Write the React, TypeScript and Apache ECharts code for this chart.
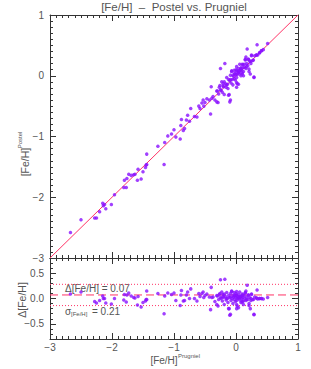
import React, { useEffect, useRef } from "react";
import * as echarts from "echarts";

// [Fe/H] from Prugniel (x) and Postel (y)
const prugniel = [
  -2.67, -2.5, -2.28, -2.25, -2.2, -2.15, -2.14, -2.12, -2.1, -2.01, -1.96, -1.81, -1.77, -1.8, -1.76, -1.73, -1.69, -1.65, -1.63, -1.59, -1.53, -1.58, -1.5, -1.46, -1.45, -1.44, -1.44, -1.26,
  -1.16, -1.15, -1.1, -1.04, -1.0, -0.97, -0.9, -0.89, -0.85, -0.83, -0.88, -0.8, -0.75, -0.73, -0.78, -0.67, -0.63, -0.6, -0.58, -0.55, -0.52, -0.53, -0.5, -0.47, -0.41, -0.43, -0.39, -0.37, -0.4, -0.34, -0.31, -0.29, -0.31, -0.27, -0.25, -0.23, -0.19, -0.18, -0.21, -0.15, -0.12, -0.09,
  -0.3, -0.28, -0.26, -0.25, -0.24, -0.22, -0.21, -0.2, -0.19, -0.17, -0.16, -0.15, -0.14, -0.13, -0.12, -0.11, -0.1, -0.1, -0.09, -0.08, -0.07, -0.06, -0.05, -0.05, -0.04, -0.03, -0.03, -0.02, -0.01, 0.0, 0.0, 0.01, 0.01, 0.02, 0.02, 0.03, 0.04, 0.04, 0.05, 0.06, 0.06, 0.07, 0.08, 0.08, 0.09, 0.1, 0.1, 0.11, 0.12, 0.13, 0.14, 0.15, 0.16, 0.17, 0.18, 0.19, 0.2, 0.21, 0.22, 0.24, 0.25, 0.27, 0.29, 0.3, 0.33, 0.35, 0.38, 0.41, 0.44, 0.51,
  -0.09, -0.07, -0.02, 0.01, 0.04, 0.05, 0.01, 0.01, 0.08, 0.1, 0.11, 0.12, 0.15, 0.16, 0.17, 0.2, 0.21, 0.23, 0.24, 0.25, 0.28, 0.29, 0.34, 0.38, 0.41, 0.33,
];
const postel = [
  -2.58, -2.37, -2.34, -2.34, -2.24, -2.1, -2.14, -2.12, -2.19, -2.12, -1.96, -1.84, -1.84, -1.72, -1.69, -1.62, -1.64, -1.63, -1.62, -1.72, -1.7, -1.54, -1.58, -1.51, -1.47, -1.46, -1.29, -1.16,
  -1.46, -1.1, -0.99, -0.96, -0.89, -1.01, -1.04, -0.82, -0.9, -0.87, -0.72, -0.73, -0.75, -0.54, -0.65, -0.67, -0.68, -0.5, -0.54, -0.45, -0.5, -0.4, -0.44, -0.38, -0.63, -0.4, -0.37, -0.34, -0.18, -0.4, -0.43, -0.44, -0.25, -0.19, -0.23, -0.1, -0.1, 0.2, -0.17, -0.15, -0.32, -0.4,
  -0.25, -0.3, -0.16, 0.12, -0.24, -0.27, -0.13, -0.18, -0.31, -0.13, -0.19, -0.03, -0.14, -0.21, -0.06, -0.31, -0.08, -0.43, 0.01, -0.12, 0.08, -0.06, 0.01, -0.15, -0.01, -0.05, 0.09, 0.03, -0.07, 0.02, 0.1, -0.03, 0.08, 0.02, -0.13, 0.07, -0.14, 0.12, 0.06, 0.03, 0.19, 0.1, 0.0, 0.13, 0.09, 0.19, 0.05, 0.13, 0.0, 0.19, 0.14, 0.26, 0.12, 0.2, 0.44, 0.17, 0.27, 0.11, 0.24, 0.24, 0.33, 0.25, -0.02, 0.33, 0.34, 0.34, 0.38, 0.41, 0.43, 0.53,
  -0.06, 0.07, 0.04, 0.15, 0.05, 0.08, -0.19, -0.11, 0.12, 0.03, 0.18, 0.07, 0.27, 0.31, 0.15, 0.27, 0.07, 0.03, 0.2, 0.34, 0.26, -0.03, 0.51, 0.38, 0.41, 0.34,
];
const meanDelta = 0.07;
const sigmaDelta = 0.21;
const xRange = [-3, 1];
const residMajor = [-0.5, 0, 0.5];
const residMinor = [-0.8, -0.7, -0.6, -0.5, -0.4, -0.3, -0.2, -0.1, 0, 0.1, 0.2, 0.3, 0.4, 0.5, 0.6, 0.7, 0.8];

const FONT = "Liberation Sans";
const TXT = "#555";
const AX = "#333";
const PT = "#8a10ff";
const LINE = "#ff3366";

const fmtInt = (v: number) => (v < 0 ? "\u2212" + Math.abs(v) : String(v));
const fmtDec = (v: number) => (v < -1e-9 ? "\u2212" : "") + Math.abs(v).toFixed(1);

function intAxis(grid: number, pos: string, showLabel: boolean) {
  const horiz = pos === "bottom" || pos === "top";
  return {
    type: "value",
    gridIndex: grid,
    position: pos,
    min: -3,
    max: 1,
    interval: 1,
    axisLine: { show: true, onZero: false, lineStyle: { color: AX, width: 1 } },
    axisTick: { show: true, inside: true, length: 6, lineStyle: { color: AX } },
    minorTick: { show: true, splitNumber: 10, length: 3, lineStyle: { color: AX } },
    axisLabel: { show: showLabel, margin: horiz ? 3 : 6, formatter: fmtInt, color: TXT, fontSize: 10, fontFamily: FONT },
    splitLine: { show: false },
    minorSplitLine: { show: false },
  };
}

function residAxis(pos: string, major: boolean, showLabel: boolean) {
  return {
    type: "value",
    gridIndex: 1,
    position: pos,
    min: -0.8,
    max: 0.8,
    axisLine: { show: major, onZero: false, lineStyle: { color: AX, width: 1 } },
    axisTick: {
      show: true,
      inside: true,
      length: major ? 6 : 3,
      customValues: major ? residMajor : residMinor,
      lineStyle: { color: AX },
    },
    axisLabel: {
      show: showLabel,
      customValues: residMajor,
      margin: 6,
      formatter: fmtDec,
      color: TXT,
      fontSize: 10,
      fontFamily: FONT,
    },
    splitLine: { show: false },
  };
}

export default function App() {
  const ref = useRef<HTMLDivElement>(null);
  useEffect(() => {
    document.body.style.margin = "0";
    if (!ref.current) return;
    const chart = echarts.init(ref.current, undefined, { renderer: "svg" });
    const mainPts = prugniel.map((x, i) => [x, postel[i]]);
    const residPts = prugniel.map((x, i) => [x, +(postel[i] - x).toFixed(3)]);
    const t = (text: string, x: number, y: number, size: number, extra: any = {}) => ({
      type: "text",
      x,
      y,
      rotation: extra.rotation || 0,
      style: {
        text,
        fill: TXT,
        fontSize: size,
        fontFamily: FONT,
        textAlign: extra.align || "center",
        textVerticalAlign: "middle",
      },
    });
    chart.setOption({
      animation: false,
      grid: [
        { left: 50, top: 15, width: 248, height: 243 },
        { left: 50, top: 258, width: 248, height: 81 },
      ],
      xAxis: [
        intAxis(0, "bottom", false),
        intAxis(0, "top", false),
        intAxis(1, "bottom", true),
        intAxis(1, "top", false),
      ],
      yAxis: [
        intAxis(0, "left", true),
        intAxis(0, "right", false),
        residAxis("left", true, true),
        residAxis("right", true, false),
        residAxis("left", false, false),
        residAxis("right", false, false),
      ],
      series: [
        {
          type: "line",
          xAxisIndex: 0,
          yAxisIndex: 0,
          data: [[xRange[0], xRange[0]], [xRange[1], xRange[1]]],
          symbol: "none",
          lineStyle: { color: LINE, width: 1 },
          z: 1,
        },
        {
          type: "scatter",
          xAxisIndex: 0,
          yAxisIndex: 0,
          data: mainPts,
          symbolSize: 3.5,
          itemStyle: { color: PT },
          z: 2,
        },
        {
          type: "line",
          xAxisIndex: 2,
          yAxisIndex: 2,
          data: [[xRange[0], meanDelta], [xRange[1], meanDelta]],
          symbol: "none",
          lineStyle: { color: LINE, width: 1, type: [8, 4] },
          z: 1,
        },
        {
          type: "line",
          xAxisIndex: 2,
          yAxisIndex: 2,
          data: [[xRange[0], meanDelta + sigmaDelta], [xRange[1], meanDelta + sigmaDelta]],
          symbol: "none",
          lineStyle: { color: LINE, width: 1, type: [1, 2] },
          z: 1,
        },
        {
          type: "line",
          xAxisIndex: 2,
          yAxisIndex: 2,
          data: [[xRange[0], meanDelta - sigmaDelta], [xRange[1], meanDelta - sigmaDelta]],
          symbol: "none",
          lineStyle: { color: LINE, width: 1, type: [1, 2] },
          z: 1,
        },
        {
          type: "scatter",
          xAxisIndex: 2,
          yAxisIndex: 2,
          data: residPts,
          symbolSize: 3.5,
          itemStyle: { color: PT },
          z: 2,
        },
      ],
      graphic: [
        t("[Fe/H]  \u2013  Postel vs. Prugniel", 174, 7, 11.5),
        t("[Fe/H]", 25, 162, 10.5, { rotation: Math.PI / 2 }),
        t("Postel", 20, 140, 6, { rotation: Math.PI / 2 }),
        t("\u0394[Fe/H]", 22, 300, 10.5, { rotation: Math.PI / 2 }),
        t("[Fe/H]", 164, 360, 10),
        t("Prugniel", 189, 356, 6),
        t("\u0394[Fe/H] = " + meanDelta.toFixed(2), 65, 288, 10, { align: "left" }),
        t("\u03c3", 65, 311, 10, { align: "left" }),
        t("[Fe/H]", 71, 314, 6, { align: "left" }),
        t("= " + sigmaDelta.toFixed(2), 92, 311, 10, { align: "left" }),
      ],
    });
    return () => chart.dispose();
  }, []);
  return <div ref={ref} style={{ width: 311, height: 369 }} />;
}
